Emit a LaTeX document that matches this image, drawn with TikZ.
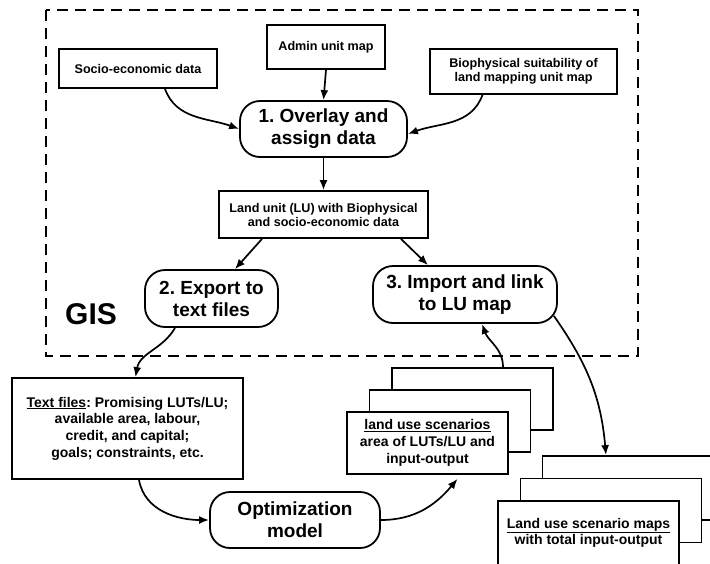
\documentclass[tikz,border=0pt]{standalone}
\usepackage{fontspec}
\setsansfont{Liberation Sans}
\usetikzlibrary{arrows.meta,calc}
\frenchspacing

\tikzset{
  databox/.style={draw, line width=1.8pt, fill=white, inner sep=0pt, align=center,
    font=\sffamily\bfseries\fontsize{12.6}{14}\selectfont},
  filebox/.style={databox, font=\sffamily\bfseries\fontsize{14}{16.7}\selectfont},
  stepround/.style={draw, line width=1.8pt, rounded corners=20pt, fill=white, inner sep=0pt,
    align=center, font=\sffamily\bfseries\fontsize{19}{22}\selectfont},
  flow/.style={line width=1.7pt, -{Latex[length=10pt,width=8pt]}},
}

\begin{document}
\begin{tikzpicture}[x=1pt,y=1pt,yscale=-1]
\clip (0,0) rectangle (710,563);

%GIS frame
\draw [line width=2.2pt, dash pattern=on 11pt off 7pt] (46,10) rectangle (638,356);
\node [font=\sffamily\bfseries\fontsize{30}{30}\selectfont] (gis) at (91,314) {GIS};

%Input maps
\node [databox, minimum width=158pt, minimum height=39pt] (socio) at (138,68.5) {Socio-economic data};
\node [databox, minimum width=118pt, minimum height=44pt] (admin) at (326,47) {Admin unit map};
\node [databox, minimum width=187pt, minimum height=45pt] (bio) at (523.5,71.5) {Biophysical suitability of\\land mapping unit map};

%GIS steps
\node [stepround, minimum width=167pt, minimum height=56pt] (overlay) at (323.5,129) {1. Overlay and\\assign data};
\node [databox, minimum width=209pt, minimum height=47pt] (landunit) at (323.5,214.5) {Land unit (LU) with Biophysical\\and socio-economic data};
\node [stepround, minimum width=133pt, minimum height=57pt] (export) at (211.5,298.5) {2. Export to\\text files};
\node [stepround, minimum width=184pt, minimum height=57pt] (import) at (465,294.5) {3. Import and link\\to LU map};

%Model
\node [filebox, minimum width=231pt, minimum height=101pt] (textfiles) at (127.5,428.5) {\underline{Text files}: Promising LUTs/LU;\\available area, labour,\\credit, and capital;\\goals; constraints, etc.};
\node [stepround, minimum width=170pt, minimum height=56pt] (optim) at (295,520) {Optimization\\model};

%Scenario stack
\node [filebox, minimum width=161pt, minimum height=62pt] (scen3) at (472.5,399) {};
\node [filebox, minimum width=161pt, minimum height=62pt] (scen2) at (450,421) {};
\node [filebox, minimum width=161pt, minimum height=62pt] (scen1) at (427.5,443) {\underline{land use scenarios}\\area of LUTs/LU and\\input-output};

%Map stack
\node [filebox, minimum width=181pt, minimum height=64pt] (maps3) at (633,488) {};
\node [filebox, minimum width=181pt, minimum height=64pt] (maps2) at (611,510.5) {};
\node [filebox, minimum width=181pt, minimum height=64pt] (maps1) at (588.5,533) {\underline{Land use scenario maps}\\with total input-output};

%Connectors
\draw [flow] ([xshift=27pt]socio.south) to [out=70,in=200] (overlay.west);
\draw [flow] (admin.south) -- (overlay.north);
\draw [flow] ([xshift=-41pt]bio.south) to [out=110,in=-20] ($(overlay.east)+(0,5)$);
\draw [flow] (overlay.south) -- (landunit.north);
\draw [flow] ([xshift=-61.5pt]landunit.south) -- ([xshift=23.5pt]export.north);
\draw [flow] ([xshift=77.5pt]landunit.south) -- ([xshift=-37pt]import.north);
\draw [flow] ([xshift=-36.5pt]export.south) to [out=120,in=-80] ([xshift=8pt]textfiles.north);
\draw [flow] ([xshift=11.5pt]textfiles.south) to [out=80,in=180] (optim.west);
\draw [flow] (optim.east) to [out=0,in=130] ($(scen1.south)+(30,4)$);
\draw [flow] ([xshift=30.5pt]scen3.north) to [out=-90,in=70] ([xshift=17pt]import.south);
\draw [flow] ($(import.south east)+(-4,-8)$) to [out=55,in=-95] ([xshift=-27pt]maps3.north);

\end{tikzpicture}
\end{document}
